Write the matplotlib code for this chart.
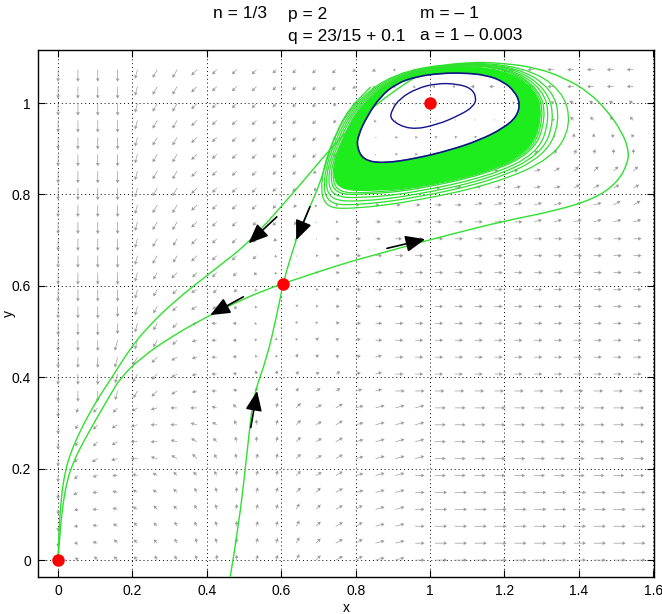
import numpy as np
import matplotlib.pyplot as plt
from matplotlib.path import Path
from matplotlib.patches import PathPatch

plt.rcParams['font.family'] = ['Liberation Sans', 'DejaVu Sans']

# ---- direction field ----
# grid: 30 columns (x = i*1.6/30), 30 rows (y = j*0.037), rows listed top (j=29) to bottom (j=0)
# angle code: 15 degrees * int(c, 36)   (0 = right, 6 = up, c = left, i = down)
angle_rows = [
    "iiiihggffffffffeeddccccccccccc",
    "iiiihggffffffffeeddccccccccccc",
    "iiiihggffffffffeeei66669aaaaaa",
    "iiiihggfffffffffgl013567899999",
    "iiiihggffffffffgl0011234566688",
    "iiiihggffffffffhi0001122344566",
    "iiiihggfffffffgi00011111123333",
    "iiiihggffffffgin00001111112222",
    "iiiihggffffffhm000000111111122",
    "iiiihggfffffgl0000000000111111",
    "iiiihggfffffgl0000000000000000",
    "iiiihggfffffl00000000000000000",
    "iiiihgffffff000000000000000000",
    "iiiihgfeffff200000000000000000",
    "iiiihgfeeffh310000000000000000",
    "iiiihgfdccd7431000000000000000",
    "iiihhgfdcca6432100000000000000",
    "iiihgfedcb86432110000000000000",
    "iiihgfedcb75322110000000000000",
    "iiihgfedca65322110000000000000",
    "ihffedccb965322111100000000000",
    "igfedccba865322111100000000000",
    "igfeccba9765322111100000000000",
    "ifedcba98755322111100000000000",
    "ifdcba998655322111000000000000",
    "iecbaa987655332111000000000000",
    "idcba9987655432211000000000000",
    "icba99887655432211000000000000",
    "icb999877655432211000000000000",
    "099998876655432211000000000000",
]
# arrow length code (pixels = 1.35 * digit)
length_rows = [
    "999977765554444332222344555555",
    "999977765554444332222344555555",
    "999977765554443322101112334444",
    "999977765554443321111111224444",
    "999977765554443212222222223333",
    "999977765554443212233333444444",
    "999977765554432123333333555555",
    "999977765554431233445555555555",
    "999977765554322334455666666666",
    "999977765544312345556666666666",
    "999977665543213445666666666666",
    "999977665542123456666666666666",
    "999976655432123456666666666666",
    "999976554321123456666666666666",
    "999876554321223456666666666666",
    "999876544321223456666666666666",
    "888876544322233456666666666666",
    "888876544322333456666666666666",
    "888776544333334456666666666666",
    "888766544333344557777777777777",
    "745555554444556677788888888888",
    "745555554444556677788888888888",
    "645555554444556677788888888888",
    "645555554444556677788888888888",
    "544444444444556677788888888888",
    "544444444444556677799999999999",
    "434444444444556677799999999999",
    "434444444444556677799999999999",
    "334444444444556677799999999999",
    "034444444444556677799999999999",
]

# ---- trajectories ----
# unstable manifold to the right, around the cycle, then down to the origin
outer_x = [0.605, 0.70, 0.785, 0.88, 0.964, 1.067, 1.20, 1.336, 1.444, 1.506, 1.533,
           1.533, 1.515, 1.479, 1.425, 1.363, 1.291, 1.202, 1.10, 1.00, 0.892, 0.812,
           0.740, 0.651, 0.516, 0.418, 0.310, 0.238, 0.194, 0.149, 0.113, 0.082,
           0.055, 0.034, 0.019, 0.008, 0.002, 0.0]
outer_y = [0.605, 0.631, 0.653, 0.674, 0.693, 0.715, 0.742, 0.764, 0.791, 0.828, 0.872,
           0.901, 0.937, 0.981, 1.025, 1.054, 1.076, 1.087, 1.090, 1.077, 1.021, 0.966,
           0.908, 0.821, 0.696, 0.634, 0.565, 0.507, 0.463, 0.405, 0.361, 0.318,
           0.275, 0.235, 0.195, 0.135, 0.060, 0.0]
# unstable manifold to the left (saddle -> origin)
lower_x = [0.605, 0.543, 0.475, 0.409, 0.31, 0.22, 0.167, 0.140, 0.105, 0.070, 0.041,
           0.023, 0.010, 0.003, 0.0]
lower_y = [0.605, 0.587, 0.562, 0.536, 0.492, 0.441, 0.398, 0.361, 0.312, 0.262, 0.215,
           0.171, 0.106, 0.035, 0.0]
# stable manifold from below
below_x = [0.462, 0.485, 0.51, 0.525, 0.561, 0.588, 0.605]
below_y = [-0.04, 0.069, 0.25, 0.361, 0.441, 0.536, 0.605]
# stable manifold from above (coming out of the band)
above_x = [0.605, 0.637, 0.677, 0.704, 0.722, 0.745, 0.78, 0.84]
above_y = [0.605, 0.700, 0.773, 0.824, 0.875, 0.93, 0.985, 1.035]

# limit cycle (blue) and inner blue orbit
cycle_x = [0.821, 0.875, 0.964, 1.054, 1.134, 1.197, 1.233, 1.242, 1.228, 1.197, 1.152,
           1.090, 1.027, 0.964, 0.910, 0.866, 0.830, 0.807, 0.803]
cycle_y = [0.875, 0.868, 0.879, 0.897, 0.919, 0.945, 0.970, 0.999, 1.025, 1.047, 1.061,
           1.066, 1.065, 1.058, 1.043, 1.014, 0.970, 0.930, 0.904]
inner_x = [0.946, 1.018, 1.081, 1.116, 1.125, 1.112, 1.072, 1.018, 0.964, 0.919, 0.897, 0.892]
inner_y = [0.941, 0.952, 0.974, 0.992, 1.010, 1.032, 1.042, 1.043, 1.032, 1.010, 0.985, 0.963]

# dense green band outer edge
band_x = [0.738, 0.752, 0.85, 0.96, 1.15, 1.27, 1.302, 1.285, 1.20, 1.05, 0.91, 0.815, 0.765]
band_y = [0.855, 0.81, 0.808, 0.815, 0.848, 0.895, 0.97, 1.03, 1.074, 1.082, 1.06, 0.995, 0.92]

# separate loops just outside the dense band (LL, BL, B1, B, BR, RL, R, RH, TR, T, TL, LH, L)
fan_x = [
    [0.705, 0.715, 0.79, 0.96, 1.18, 1.33, 1.381, 1.355, 1.25, 1.08, 0.90, 0.79, 0.735],
    [0.712, 0.722, 0.80, 0.96, 1.17, 1.31, 1.350, 1.330, 1.235, 1.08, 0.905, 0.795, 0.742],
    [0.718, 0.728, 0.81, 0.96, 1.165, 1.30, 1.335, 1.315, 1.225, 1.08, 0.91, 0.80, 0.748],
    [0.724, 0.735, 0.82, 0.96, 1.16, 1.29, 1.322, 1.305, 1.215, 1.08, 0.915, 0.805, 0.754],
    [0.730, 0.742, 0.83, 0.96, 1.155, 1.28, 1.312, 1.295, 1.21, 1.08, 0.92, 0.81, 0.760],
    [0.735, 0.748, 0.84, 0.96, 1.152, 1.275, 1.306, 1.29, 1.205, 1.08, 0.922, 0.812, 0.763],
]
fan_y = [
    [0.83, 0.772, 0.768, 0.785, 0.825, 0.88, 0.952, 1.03, 1.08, 1.09, 1.066, 0.995, 0.915],
    [0.835, 0.78, 0.776, 0.792, 0.83, 0.885, 0.96, 1.03, 1.079, 1.088, 1.065, 0.995, 0.915],
    [0.84, 0.788, 0.784, 0.798, 0.835, 0.888, 0.962, 1.03, 1.078, 1.087, 1.064, 0.995, 0.915],
    [0.845, 0.795, 0.792, 0.804, 0.84, 0.89, 0.965, 1.03, 1.077, 1.086, 1.063, 0.995, 0.915],
    [0.85, 0.80, 0.80, 0.81, 0.845, 0.893, 0.968, 1.03, 1.076, 1.085, 1.062, 0.995, 0.915],
    [0.852, 0.803, 0.804, 0.813, 0.847, 0.894, 0.969, 1.03, 1.075, 1.084, 1.061, 0.995, 0.917],
]

# black direction arrows (tail, tip)
arrow_tails = [(0.588, 0.751), (0.677, 0.773), (0.498, 0.576), (0.884, 0.682), (0.518, 0.29)]
arrow_tips = [(0.512, 0.693), (0.640, 0.700), (0.409, 0.536), (0.987, 0.702), (0.535, 0.37)]

# equilibria
eq_x = [0.0, 0.605, 1.0]
eq_y = [0.0, 0.605, 1.0]

GREEN = '#2fe02f'
BLUE = '#12128c'


def smooth_path(xs, ys, closed=False):
    p = np.column_stack([xs, ys]).astype(float)
    if closed:
        mids = (p + np.roll(p, -1, axis=0)) / 2
        verts = [mids[-1]]
        codes = [Path.MOVETO]
        for k in range(len(p)):
            verts += [p[k], mids[k]]
            codes += [Path.CURVE3, Path.CURVE3]
    else:
        verts = [p[0]]
        codes = [Path.MOVETO]
        for k in range(1, len(p) - 1):
            verts += [p[k], (p[k] + p[k + 1]) / 2]
            codes += [Path.CURVE3, Path.CURVE3]
        verts.append(p[-1])
        codes.append(Path.LINETO)
    return np.array(verts), codes


def draw_curve(ax, xs, ys, color, lw, closed=False, z=3):
    v, c = smooth_path(xs, ys, closed)
    ax.add_patch(PathPatch(Path(v, c), fill=False, edgecolor=color, lw=lw, zorder=z))


fig = plt.figure(figsize=(6.62, 6.14), dpi=100)
ax = fig.add_axes([38 / 662, 37 / 614, 616 / 662, 527 / 614])

# quiver
nx, ny = 30, 30
xg = np.arange(nx) * 1.6 / 30
yg = np.arange(ny) * 0.037
X, Y = np.meshgrid(xg, yg)
ang = np.array([[15 * int(c, 36) for c in row] for row in angle_rows[::-1]], float)
ln = np.array([[1.35 * int(c) for c in row] for row in length_rows[::-1]], float)
U = ln * np.cos(np.radians(ang))
V = ln * np.sin(np.radians(ang))
m = ln > 0
ax.quiver(X[m], Y[m], U[m], V[m], angles='uv', scale_units='dots', scale=1,
          units='dots', width=0.7, headwidth=5.5, headlength=5, headaxislength=4.5,
          color='#9c9c9c', zorder=1)

# dense band between the cycle and its outer edge
v1, c1 = smooth_path(band_x, band_y, closed=True)
v2, c2 = smooth_path(cycle_x[::-1], cycle_y[::-1], closed=True)
band = Path(np.vstack([v1, v2]), c1 + c2)
ax.add_patch(PathPatch(band, facecolor='#1ded1d', edgecolor='#1ded1d', lw=0.8, zorder=2))

for fx, fy in zip(fan_x, fan_y):
    draw_curve(ax, fx, fy, GREEN, 0.9, closed=True)

draw_curve(ax, outer_x, outer_y, GREEN, 1.0)
draw_curve(ax, lower_x, lower_y, GREEN, 1.0)
draw_curve(ax, below_x, below_y, GREEN, 1.0)
draw_curve(ax, above_x, above_y, GREEN, 1.0)

draw_curve(ax, cycle_x, cycle_y, BLUE, 1.2, closed=True, z=4)
draw_curve(ax, inner_x, inner_y, BLUE, 1.0, closed=True, z=4)

for t0, t1 in zip(arrow_tails, arrow_tips):
    ax.annotate('', xy=t1, xytext=t0,
                arrowprops=dict(arrowstyle='-|>,head_length=1.0,head_width=0.42',
                                color='k', lw=1.2, shrinkA=0, shrinkB=0,
                                mutation_scale=12), zorder=5)

ax.plot(eq_x, eq_y, 'o', color='#ff0000', ms=9, mec='none', zorder=6, clip_on=False)

ax.set_xlim(-0.054, 1.602)
ax.set_ylim(-0.037, 1.116)
xt = [0, 0.2, 0.4, 0.6, 0.8, 1.0, 1.2, 1.4, 1.6]
yt = [0, 0.2, 0.4, 0.6, 0.8, 1.0]
ax.set_xticks(xt)
ax.set_xticklabels(['0', '0.2', '0.4', '0.6', '0.8', '1', '1.2', '1.4', '1.6'])
ax.set_yticks(yt)
ax.set_yticklabels(['0', '0.2', '0.4', '0.6', '0.8', '1'])
ax.tick_params(direction='in', top=True, right=True, length=5, width=0.8,
               labelsize=10, pad=5)
ax.grid(True, linestyle=(0, (1, 3)), color='k', linewidth=0.7)
ax.set_axisbelow(True)
for s in ax.spines.values():
    s.set_linewidth(1.0)
ax.set_xlabel('x', fontsize=10, labelpad=2)
ax.set_ylabel('y', fontsize=10)
ax.yaxis.set_label_coords(-0.036, 0.5)

# header text
fs = 12.5
fig.text(213 / 662, 1 - 14 / 614, 'n = 1/3', fontsize=fs, va='center')
fig.text(288 / 662, 1 - 14 / 614, 'p = 2', fontsize=fs, va='center')
fig.text(420 / 662, 1 - 14 / 614, 'm = \u2013 1', fontsize=fs, va='center')
fig.text(288 / 662, 1 - 36 / 614, 'q = 23/15 + 0.1', fontsize=fs, va='center')
fig.text(420 / 662, 1 - 36 / 614, 'a = 1 \u2013 0.003', fontsize=fs, va='center')

fig.savefig('out.png', dpi=100)
